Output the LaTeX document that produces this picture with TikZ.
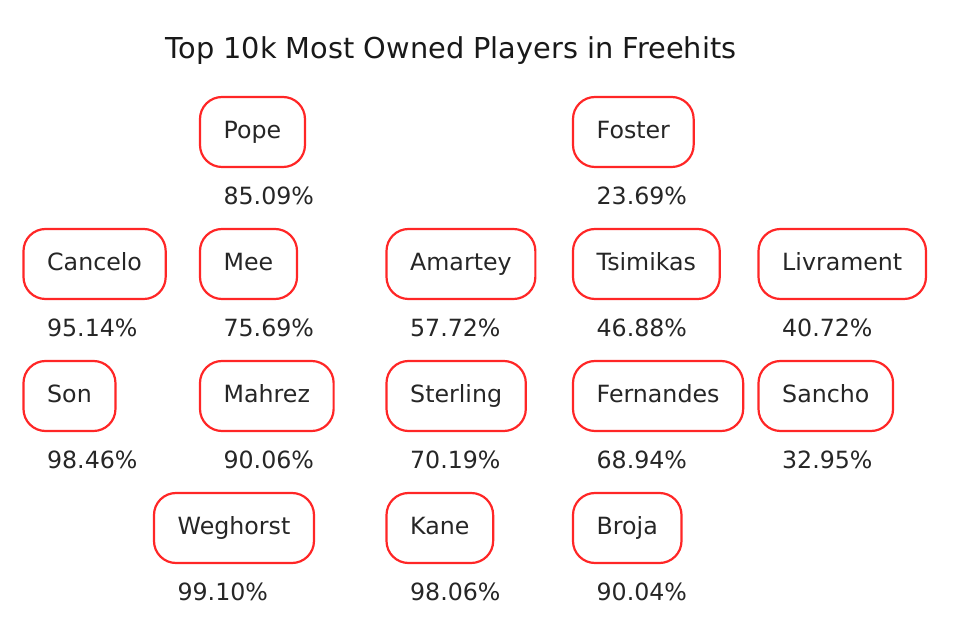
\documentclass[tikz,border=0pt]{standalone}
\usepackage{fontspec}
\setmainfont{DejaVu Sans}
\definecolor{boxred}{RGB}{255,38,38}
\begin{document}
\begin{tikzpicture}[x=0.5pt,y=-0.5pt,
  playerbox/.style={draw=boxred, line width=1.1pt, rounded corners=11pt, fill=white,
    inner xsep=11.85pt, inner ysep=11.85pt, outer sep=0pt,
    text height=8.9pt, text depth=2.4pt, anchor=base west,
    font=\fontsize{11.85}{14}\selectfont, text=black!85},
  pctlabel/.style={inner sep=0pt, anchor=base west,
    font=\fontsize{11.85}{14}\selectfont, text=black!85},
  titlelabel/.style={inner sep=0pt, anchor=base,
    font=\fontsize{14.4}{17}\selectfont, text=black!90}]
\useasboundingbox (0,0) rectangle (958,635);
\node[titlelabel] (title) at (451,59) {Top 10k Most Owned Players in Freehits};
\foreach \n/\x/\y/\p in {
  Pope/200/138.5/85.09, Foster/573/138.5/23.69,
  Cancelo/23.5/270.5/95.14, Mee/200/270.5/75.69, Amartey/386.5/270.5/57.72,
  Tsimikas/573/270.5/46.88, Livrament/758.5/270.5/40.72,
  Son/23.5/402.5/98.46, Mahrez/200/402.5/90.06, Sterling/386.5/402.5/70.19,
  Fernandes/573/402.5/68.94, Sancho/758.5/402.5/32.95,
  Weghorst/154/534.5/99.10, Kane/386.5/534.5/98.06, Broja/573/534.5/90.04}{
  \node[playerbox] (\n) at (\x,\y) {\n};
  \node[pctlabel] (\n-pct) at (\x+23.2,\y+66.5) {\p\%};
}
\end{tikzpicture}
\end{document}
